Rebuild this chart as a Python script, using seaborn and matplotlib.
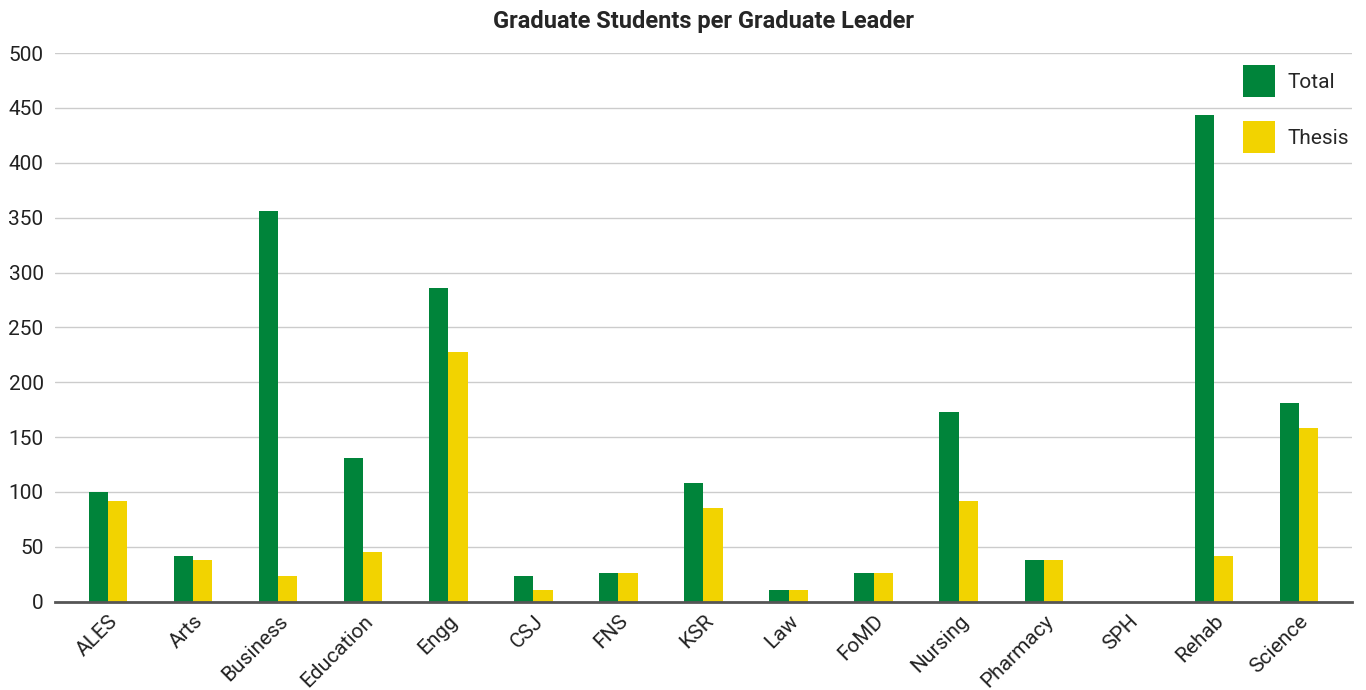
import pandas as pd
import seaborn as sns
import matplotlib.pyplot as plt

faculties = ["ALES", "Arts", "Business", "Education", "Engg", "CSJ", "FNS", "KSR",
             "Law", "FoMD", "Nursing", "Pharmacy", "SPH", "Rehab", "Science"]
total = [100, 42, 356, 131, 286, 23, 26, 108, 11, 26, 173, 38, 0, 444, 181]
thesis = [92, 38, 23, 45, 228, 11, 26, 85, 11, 26, 92, 38, 0, 42, 158]

df = pd.DataFrame({"Faculty": faculties * 2,
                   "Series": ["Total"] * len(faculties) + ["Thesis"] * len(faculties),
                   "Students": total + thesis})

sns.set_style("white")
plt.rcParams['font.family'] = ['Roboto', 'DejaVu Sans']

fig, ax = plt.subplots(figsize=(13.66, 6.9), dpi=100)
sns.barplot(data=df, x="Faculty", y="Students", hue="Series",
            palette={"Total": "#00843a", "Thesis": "#f2d300"},
            width=0.45, saturation=1, linewidth=0, ax=ax)

ax.set_xlim(-0.63, 14.63)
ax.set_ylim(0, 500)
ax.set_yticks(range(0, 501, 50))
ax.yaxis.grid(True, color="#cccccc", linewidth=1)
ax.set_axisbelow(True)
for s in ["left", "right", "top"]:
    ax.spines[s].set_visible(False)
ax.spines["bottom"].set_color("#555555")
ax.spines["bottom"].set_linewidth(2)
ax.tick_params(axis="both", length=0, labelsize=15, colors="#222222")
ax.tick_params(axis="y", pad=8)
ax.tick_params(axis="x", pad=7)
plt.setp(ax.get_xticklabels(), rotation=45, ha="right", va="top", rotation_mode="anchor")

ax.set_xlabel("")
ax.set_ylabel("")
ax.set_title("Graduate Students per Graduate Leader", fontsize=17, fontweight="bold", pad=18)

ax.legend(loc="upper right", frameon=False, fontsize=15, handlelength=1.54, handleheight=1.97,
          handletextpad=0.6, labelspacing=1.15, borderaxespad=0, borderpad=0.4,
          bbox_to_anchor=(1.004, 0.993))

plt.subplots_adjust(left=0.04, right=0.99, top=0.923, bottom=0.128)
plt.savefig("out.png", dpi=100)
plt.close()
